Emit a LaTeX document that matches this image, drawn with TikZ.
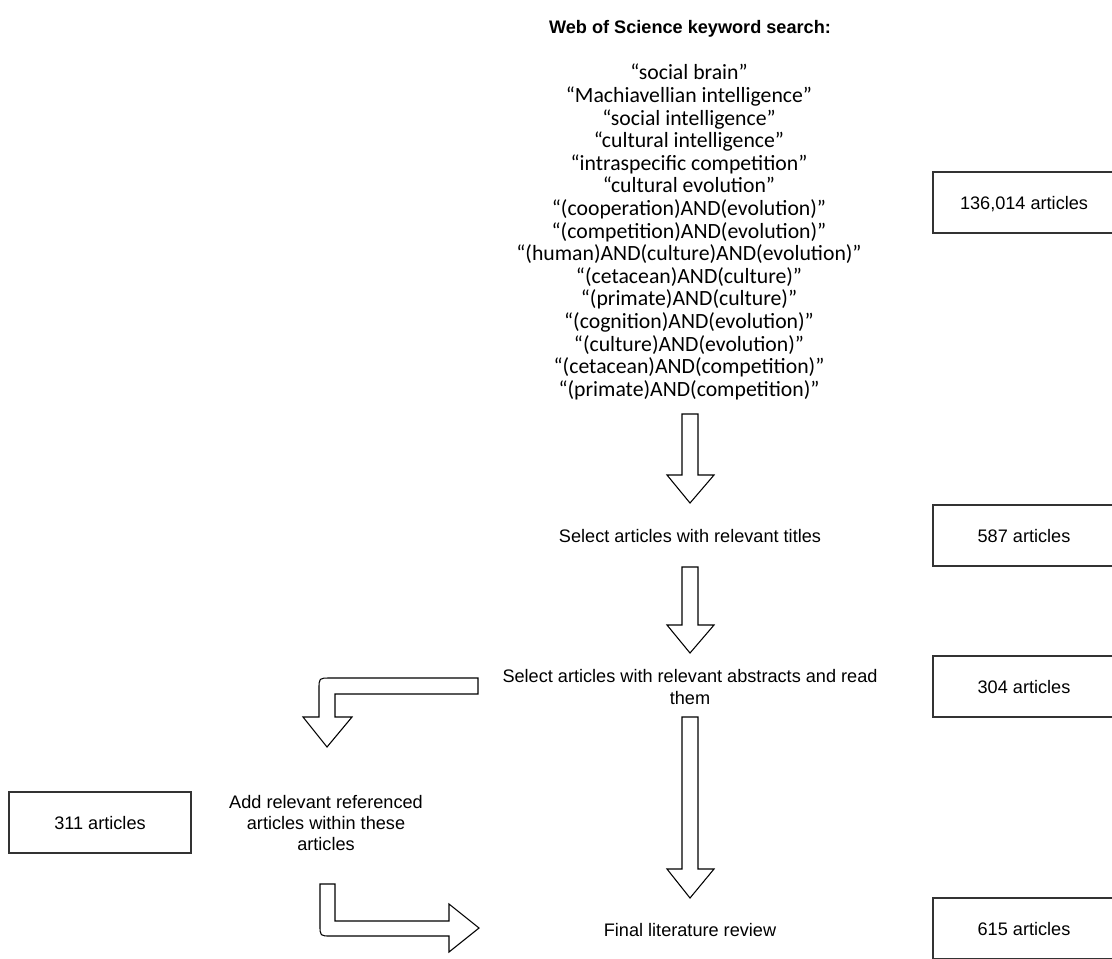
\documentclass[tikz,border=0pt]{standalone}
\usepackage{fontspec}
\setmainfont{Liberation Sans}
\newfontfamily\kwfont{Carlito}
\begin{document}
\begin{tikzpicture}[x=0.75pt,y=-0.75pt,
  txt/.style={font=\fontsize{13.6}{15.8}\selectfont, align=center, inner sep=0pt},
  countbox/.style={draw=black!80, line width=1.1pt, minimum width=136.5pt,
    minimum height=45.75pt, inner sep=0pt, text height=9.8pt, text depth=0pt,
    font=\fontsize{13.6}{15.8}\selectfont},
  kwlist/.style={font=\kwfont\fontsize{16.3}{16.95}\selectfont, align=center, inner sep=0pt},
  blockarrow/.style={draw=black, line width=0.8pt, fill=white, line join=miter}]
\useasboundingbox (0,0) rectangle (1112,958);
\clip (0,0) rectangle (1112,958);

% search terms
\node[txt, font=\bfseries\fontsize{13.6}{15.8}\selectfont] (title) at (690,29) {Web of Science keyword search:};
\node[kwlist] (keywords) at (689,232) {%
“social brain”\\
“Machiavellian intelligence”\\
“social intelligence”\\
“cultural intelligence”\\
“intraspecific competition”\\
“cultural evolution”\\
“(cooperation)AND(evolution)”\\
“(competition)AND(evolution)”\\
“(human)AND(culture)AND(evolution)”\\
“(cetacean)AND(culture)”\\
“(primate)AND(culture)”\\
“(cognition)AND(evolution)”\\
“(culture)AND(evolution)”\\
“(cetacean)AND(competition)”\\
“(primate)AND(competition)”};

% screening steps
\node[txt] (titles) at (690,536) {Select articles with relevant titles};
\node[txt] (abstracts) at (690,687) {Select articles with relevant abstracts and read\\them};
\node[txt] (refs) at (326,823) {Add relevant referenced\\articles within these\\articles};
\node[txt] (final) at (690,930) {Final literature review};

% article counts
\node[countbox] (n1) at (1024,202.5) {136,014 articles};
\node[countbox] (n2) at (1024,535.5) {587 articles};
\node[countbox] (n3) at (1024,686.5) {304 articles};
\node[countbox] (n4) at (100,822.5) {311 articles};
\node[countbox] (n5) at (1024,928.5) {615 articles};

% block arrows between the steps
\draw[blockarrow] (682,414) -- (698,414) -- (698,475) -- (714,475) -- (690,503)
  -- (667,475) -- (682,475) -- cycle;
\draw[blockarrow] (682,567) -- (698,567) -- (698,625) -- (714,625) -- (690,653)
  -- (667,625) -- (682,625) -- cycle;
\draw[blockarrow] (682,717) -- (698,717) -- (698,869) -- (714,869) -- (690,898)
  -- (667,869) -- (682,869) -- cycle;
\draw[blockarrow] (478,678) -- (330,678) .. controls (319,678) .. (319,689)
  -- (319,717) -- (303,717) -- (327,747) -- (352,717) -- (335,717)
  -- (335,694) -- (478,694) -- cycle;
\draw[blockarrow] (320,884) -- (320,925) .. controls (320,936) .. (331,936)
  -- (449,936) -- (449,952) -- (479,928) -- (449,904) -- (449,921)
  -- (335,921) -- (335,884) -- cycle;
\end{tikzpicture}
\end{document}
